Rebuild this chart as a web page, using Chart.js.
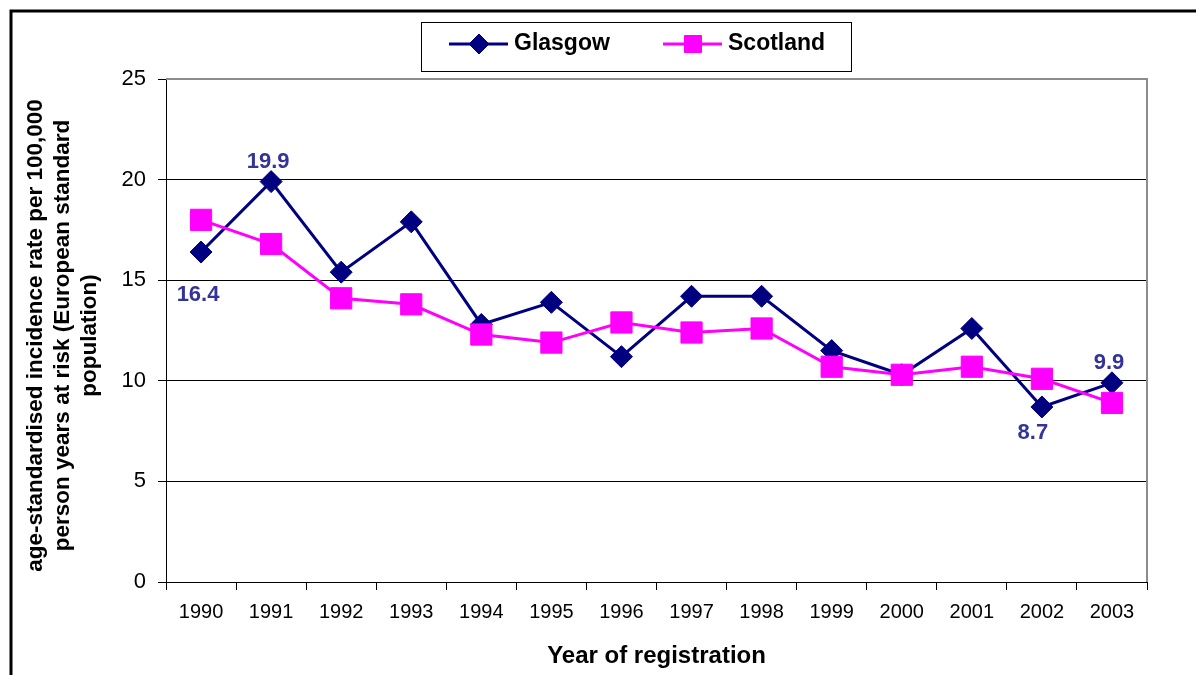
<!DOCTYPE html>
<html>
<head>
<meta charset="utf-8">
<script src="https://cdn.jsdelivr.net/npm/chart.js@4.4.0/dist/chart.umd.min.js"></script>
<style>
  html, body { margin: 0; padding: 0; background: #fff; }
  #wrap { width: 1196px; height: 675px; position: relative; }
</style>
</head>
<body>
<div id="wrap"><canvas id="chart" width="1196" height="675"></canvas></div>
<script>
(function() {
  'use strict';

  // chart data
  const years = ['1990', '1991', '1992', '1993', '1994', '1995', '1996',
                 '1997', '1998', '1999', '2000', '2001', '2002', '2003'];
  const glasgow = [16.4, 19.9, 15.4, 17.9, 12.8, 13.9, 11.2, 14.2, 14.2, 11.5, 10.3, 12.6, 8.7, 9.9];
  const scotland = [18.0, 16.8, 14.1, 13.8, 12.3, 11.9, 12.9, 12.4, 12.6, 10.7, 10.3, 10.7, 10.1, 8.9];
  const yMin = 0;
  const yMax = 25;
  const yStep = 5;
  const yTitleLines = [
    'age-standardised incidence rate per 100,000',
    'person years at risk (European standard',
    'population)'
  ];
  const xTitle = 'Year of registration';
  // Glasgow points that carry a value label: index and side
  const labelIndex = [0, 1, 12, 13];
  const labelSide = ['below', 'above', 'below', 'above'];

  const FONT = "'Liberation Sans', Arial, Helvetica, sans-serif";
  const NAVY = '#000080';
  const MAGENTA = '#FF00FF';

  /**
   * Frame, legend box, axis titles and value labels
   */
  const decorPlugin = {
    id: 'decor',
    afterDatasetsDraw(chart) {
      const ctx = chart.ctx;
      const area = chart.chartArea;
      ctx.save();

      // plot area top/right border
      ctx.strokeStyle = '#8c8c8c';
      ctx.lineWidth = 2;
      ctx.beginPath();
      ctx.moveTo(area.left, area.top);
      ctx.lineTo(area.right, area.top);
      ctx.lineTo(area.right, area.bottom);
      ctx.stroke();

      // outer frame (top and left)
      ctx.strokeStyle = '#000';
      ctx.lineWidth = 3;
      ctx.beginPath();
      ctx.moveTo(11, 675);
      ctx.lineTo(11, 11);
      ctx.lineTo(1196, 11);
      ctx.stroke();

      // value labels on Glasgow
      const meta = chart.getDatasetMeta(0);
      ctx.fillStyle = '#333399';
      ctx.font = 'bold 22px ' + FONT;
      ctx.textAlign = 'center';
      ctx.textBaseline = 'middle';
      labelIndex.forEach((i, k) => {
        const pt = meta.data[i];
        let x = pt.x;
        let y = pt.y;
        if (labelSide[k] === 'above') {
          y -= 20; x -= 3;
        } else if (i === 0) {
          y += 43; x -= 3;
        } else {
          y += 26; x -= 9;
        }
        ctx.fillText(glasgow[i].toFixed(1), x, y);
      });

      // y axis title, three rotated lines
      ctx.fillStyle = '#000';
      ctx.font = 'bold 22.5px ' + FONT;
      ctx.translate(36, (area.top + area.bottom) / 2 + 5);
      ctx.rotate(-Math.PI / 2);
      yTitleLines.forEach((line, i) => {
        ctx.fillText(line, 0, i * 27);
      });
      ctx.setTransform(1, 0, 0, 1, 0, 0);

      // x axis title
      ctx.font = 'bold 24px ' + FONT;
      ctx.fillText(xTitle, (area.left + area.right) / 2, 656);

      // legend box
      ctx.strokeStyle = '#000';
      ctx.lineWidth = 1;
      ctx.fillStyle = '#fff';
      ctx.fillRect(421.5, 22.5, 430, 49);
      ctx.strokeRect(421.5, 22.5, 430, 49);

      const entries = [
        { ds: chart.data.datasets[0], x: 449, r: 10 },
        { ds: chart.data.datasets[1], x: 663, r: 12 }
      ];
      ctx.font = 'bold 23px ' + FONT;
      ctx.textAlign = 'left';
      entries.forEach(e => {
        const yMid = 44;
        ctx.strokeStyle = e.ds.borderColor;
        ctx.lineWidth = 3;
        ctx.beginPath();
        ctx.moveTo(e.x, yMid);
        ctx.lineTo(e.x + 59, yMid);
        ctx.stroke();
        ctx.fillStyle = e.ds.pointBackgroundColor;
        ctx.strokeStyle = e.ds.pointBackgroundColor;
        ctx.lineWidth = 1;
        Chart.helpers.drawPoint(ctx, { pointStyle: e.ds.pointStyle, radius: e.r, borderWidth: 1, rotation: 0 }, e.x + 30, yMid);
        ctx.fillStyle = '#000';
        ctx.fillText(e.ds.label, e.x + 65, yMid);
      });

      ctx.restore();
    }
  };

  function initializeChart() {
    const canvas = document.getElementById('chart');
    new Chart(canvas, {
      type: 'line',
      data: {
        labels: years,
        datasets: [
          {
            label: 'Glasgow',
            data: glasgow,
            borderColor: NAVY,
            backgroundColor: NAVY,
            pointBackgroundColor: NAVY,
            pointBorderColor: NAVY,
            borderWidth: 3,
            pointStyle: 'rectRot',
            pointRadius: 11,
            pointBorderWidth: 1,
            tension: 0,
            order: 2
          },
          {
            label: 'Scotland',
            data: scotland,
            borderColor: MAGENTA,
            backgroundColor: MAGENTA,
            pointBackgroundColor: MAGENTA,
            pointBorderColor: MAGENTA,
            borderWidth: 3,
            pointStyle: 'rect',
            pointRadius: 15,
            pointBorderWidth: 1,
            tension: 0,
            order: 1
          }
        ]
      },
      options: {
        responsive: false,
        animation: false,
        layout: { padding: { left: 0, right: 49, top: 79, bottom: 0 } },
        plugins: {
          legend: { display: false },
          tooltip: { enabled: false }
        },
        scales: {
          x: {
            offset: true,
            grid: {
              offset: true,
              drawOnChartArea: false,
              tickLength: 8,
              tickColor: '#000'
            },
            border: { color: '#000', width: 1 },
            ticks: {
              color: '#000',
              font: { family: FONT, size: 20 },
              padding: 10,
              maxRotation: 0,
              autoSkip: false
            },
            afterFit(scale) { scale.height = 93; }
          },
          y: {
            min: yMin,
            max: yMax,
            grid: {
              color: c => (c.tick && c.tick.value === yMax ? '#8c8c8c' : '#000'),
              lineWidth: 1,
              tickLength: 8,
              tickColor: '#000'
            },
            border: { color: '#000', width: 1 },
            ticks: {
              stepSize: yStep,
              color: '#000',
              font: { family: FONT, size: 22 },
              padding: 12
            },
            afterFit(scale) { scale.width = 166; }
          }
        }
      },
      plugins: [decorPlugin]
    });
  }

  if (document.readyState === 'loading') {
    document.addEventListener('DOMContentLoaded', initializeChart);
  } else {
    initializeChart();
  }
})();
</script>
</body>
</html>
